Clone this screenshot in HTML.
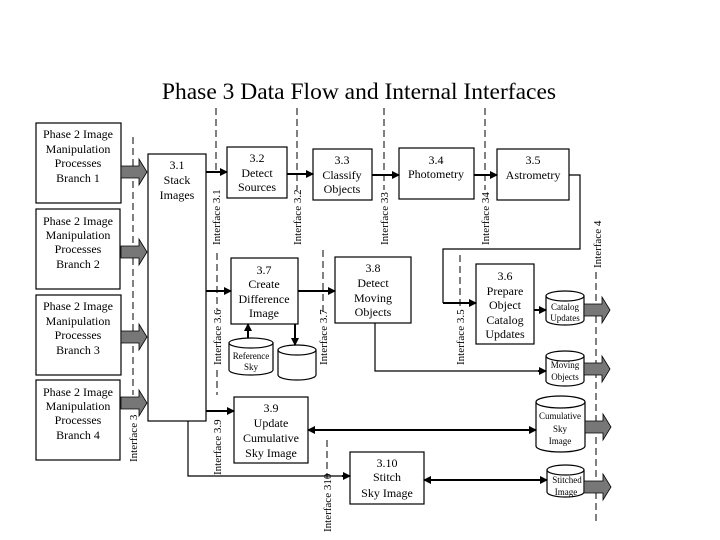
<!DOCTYPE html>
<html><head><meta charset="utf-8"><style>
html,body{margin:0;padding:0;background:#fff;width:720px;height:540px;overflow:hidden}
svg{display:block}
text{font-family:"Liberation Serif",serif;fill:#000}
</style></head><body>
<svg width="720" height="540" viewBox="0 0 720 540" xmlns="http://www.w3.org/2000/svg">
<defs>
<marker id="a" markerWidth="8" markerHeight="8" refX="7" refY="4" orient="auto" markerUnits="userSpaceOnUse"><path d="M0,0 L8,4 L0,8 Z" fill="#000"/></marker>
<marker id="s" markerWidth="8" markerHeight="8" refX="1" refY="4" orient="auto" markerUnits="userSpaceOnUse"><path d="M8,0 L0,4 L8,8 Z" fill="#000"/></marker>
</defs>
<text x="359" y="99" font-size="23.5" text-anchor="middle">Phase 3 Data Flow and Internal Interfaces</text>

<g fill="none" stroke="#000" stroke-width="1" stroke-dasharray="7,4">
<line x1="133" y1="137" x2="133" y2="395"/>
<line x1="216" y1="108" x2="216" y2="172"/>
<line x1="217" y1="253" x2="217" y2="310"/>
<line x1="217" y1="370" x2="217" y2="395"/>
<line x1="297" y1="108" x2="297" y2="190"/>
<line x1="384" y1="108" x2="384" y2="190"/>
<line x1="485" y1="108" x2="485" y2="190"/>
<line x1="323" y1="250" x2="323" y2="312"/>
<line x1="460" y1="255" x2="460" y2="308"/>
<line x1="327" y1="440" x2="327" y2="478"/>
<line x1="596" y1="272" x2="596" y2="525"/>
</g>

<g font-size="11">
<text transform="translate(137,462) rotate(-90)">Interface 3</text>
<text transform="translate(220,245) rotate(-90)">Interface 3.1</text>
<text transform="translate(221,365) rotate(-90)">Interface 3.6</text>
<text transform="translate(221,475) rotate(-90)">Interface 3.9</text>
<text transform="translate(301,245) rotate(-90)">Interface 3.2</text>
<text transform="translate(388,245) rotate(-90)">Interface 33</text>
<text transform="translate(489,245) rotate(-90)">Interface 34</text>
<text transform="translate(327,365) rotate(-90)">Interface 3.7</text>
<text transform="translate(464,365) rotate(-90)">Interface 3.5</text>
<text transform="translate(331,532) rotate(-90)">Interface 310</text>
<text transform="translate(601,268) rotate(-90)">Interface 4</text>
</g>

<g fill="#fff" stroke="#000" stroke-width="1.2">
<rect x="36" y="123" width="85" height="80"/>
<rect x="36" y="209" width="84" height="80"/>
<rect x="36" y="295" width="85" height="80"/>
<rect x="36" y="380" width="84" height="80"/>
<rect x="148" y="154" width="58" height="267"/>
<rect x="227" y="147" width="60" height="51"/>
<rect x="313" y="149" width="59" height="51"/>
<rect x="399" y="148" width="75" height="51"/>
<rect x="497" y="149" width="72" height="51"/>
<rect x="231" y="258" width="67" height="66"/>
<rect x="335" y="257" width="76" height="66"/>
<rect x="476" y="264" width="58" height="80"/>
<rect x="234" y="397" width="74" height="66"/>
<rect x="350" y="452" width="74" height="52"/>
</g>

<g font-size="12" text-anchor="middle">
<text x="78" y="138">Phase 2 Image</text><text x="78" y="153">Manipulation</text><text x="78" y="167">Processes</text><text x="78" y="182">Branch 1</text>
<text x="78" y="225">Phase 2 Image</text><text x="78" y="239">Manipulation</text><text x="78" y="253">Processes</text><text x="78" y="268">Branch 2</text>
<text x="78" y="310">Phase 2 Image</text><text x="78" y="325">Manipulation</text><text x="78" y="339">Processes</text><text x="78" y="354">Branch 3</text>
<text x="78" y="396">Phase 2 Image</text><text x="78" y="410">Manipulation</text><text x="78" y="424">Processes</text><text x="78" y="439">Branch 4</text>
<text x="177" y="169">3.1</text><text x="177" y="184">Stack</text><text x="177" y="199">Images</text>
<text x="257" y="162">3.2</text><text x="257" y="177">Detect</text><text x="257" y="191">Sources</text>
<text x="342" y="164">3.3</text><text x="342" y="179">Classify</text><text x="342" y="193">Objects</text>
<text x="436" y="164">3.4</text><text x="436" y="178">Photometry</text>
<text x="533" y="164">3.5</text><text x="533" y="179">Astrometry</text>
<text x="264" y="274">3.7</text><text x="264" y="288">Create</text><text x="264" y="303">Difference</text><text x="264" y="317">Image</text>
<text x="373" y="272">3.8</text><text x="373" y="287">Detect</text><text x="373" y="302">Moving</text><text x="373" y="316">Objects</text>
<text x="505" y="280">3.6</text><text x="505" y="295">Prepare</text><text x="505" y="309">Object</text><text x="505" y="324">Catalog</text><text x="505" y="338">Updates</text>
<text x="271" y="412">3.9</text><text x="271" y="427">Update</text><text x="271" y="442">Cumulative</text><text x="271" y="457">Sky Image</text>
<text x="387" y="467">3.10</text><text x="387" y="481">Stitch</text><text x="387" y="497">Sky Image</text>
</g>

<g fill="#fff" stroke="#000" stroke-width="1.2">
<path d="M229,343 A22,5 0 0 1 273,343 V370 A22,5 0 0 1 229,370 Z M229,343 A22,5 0 0 0 273,343"/>
<path d="M278,350 A19,5 0 0 1 316,350 V375 A19,5 0 0 1 278,375 Z M278,350 A19,5 0 0 0 316,350"/>
<path d="M546,296 A19,5 0 0 1 584,296 V320 A19,5 0 0 1 546,320 Z M546,296 A19,5 0 0 0 584,296"/>
<path d="M546,356 A19,5 0 0 1 584,356 V381 A19,5 0 0 1 546,381 Z M546,356 A19,5 0 0 0 584,356"/>
<path d="M536,402 A24.5,6 0 0 1 585,402 V446 A24.5,6 0 0 1 536,446 Z M536,402 A24.5,6 0 0 0 585,402"/>
<path d="M547,470 A18.5,5 0 0 1 584,470 V492 A18.5,5 0 0 1 547,492 Z M547,470 A18.5,5 0 0 0 584,470"/>
</g>
<g font-size="9" text-anchor="middle">
<text x="251" y="359">Reference</text><text x="251" y="370">Sky</text>
<text x="565" y="310">Catalog</text><text x="565" y="321">Updates</text>
<text x="565" y="368">Moving</text><text x="565" y="380">Objects</text>
<text x="560" y="419">Cumulative</text><text x="560" y="432">Sky</text><text x="560" y="444">Image</text>
<text x="567" y="483">Stitched</text><text x="566" y="495">Image</text>
</g>

<g fill="#777" stroke="#000" stroke-width="0.8">
<path d="M121,166 H139 V159 L147,172 L139,185 V178 H121 Z"/>
<path d="M121,246 H139 V239 L147,252 L139,265 V258 H121 Z"/>
<path d="M121,331 H139 V324 L147,337 L139,350 V343 H121 Z"/>
<path d="M121,397 H139 V390 L147,403 L139,416 V409 H121 Z"/>
<path d="M584,304 H602 V297 L610,310 L602,323 V316 H584 Z"/>
<path d="M584,363 H602 V356 L610,369 L602,382 V375 H584 Z"/>
<path d="M585,421 H603 V414 L611,427 L603,440 V433 H585 Z"/>
<path d="M584,481 H603 V474 L611,487 L603,500 V493 H584 Z"/>
</g>

<g fill="none" stroke="#000" stroke-width="2">
<line x1="206" y1="172" x2="227" y2="172" marker-end="url(#a)"/>
<line x1="287" y1="174" x2="313" y2="174" marker-end="url(#a)"/>
<line x1="372" y1="175" x2="399" y2="175" marker-end="url(#a)"/>
<line x1="474" y1="175" x2="497" y2="175" marker-end="url(#a)"/>
<line x1="206" y1="291" x2="231" y2="291" marker-end="url(#a)"/>
<line x1="298" y1="291" x2="335" y2="291" marker-end="url(#a)"/>
<line x1="248" y1="338" x2="248" y2="324" marker-end="url(#a)"/>
<line x1="295" y1="324" x2="295" y2="345" marker-end="url(#a)"/>
<line x1="534" y1="310" x2="546" y2="310" marker-end="url(#a)"/>
<line x1="206" y1="411" x2="234" y2="411" marker-end="url(#a)"/>
<line x1="308" y1="430" x2="536" y2="430" marker-start="url(#s)" marker-end="url(#a)"/>
<line x1="424" y1="480" x2="547" y2="480" marker-start="url(#s)" marker-end="url(#a)"/>
</g>
<g fill="none" stroke="#000" stroke-width="1.2">
<polyline points="569,175 580,175 580,249 443,249 443,303"/>
<polyline points="375,323 375,371 540,371"/>
<polyline points="188,421 188,476 344,476"/>
</g>
<g fill="none" stroke="#000" stroke-width="2">
<line x1="443" y1="303" x2="476" y2="303" marker-end="url(#a)"/>
<line x1="538" y1="371" x2="546" y2="371" marker-end="url(#a)"/>
<line x1="342" y1="476" x2="350" y2="476" marker-end="url(#a)"/>
</g>
</svg>
</body></html>
